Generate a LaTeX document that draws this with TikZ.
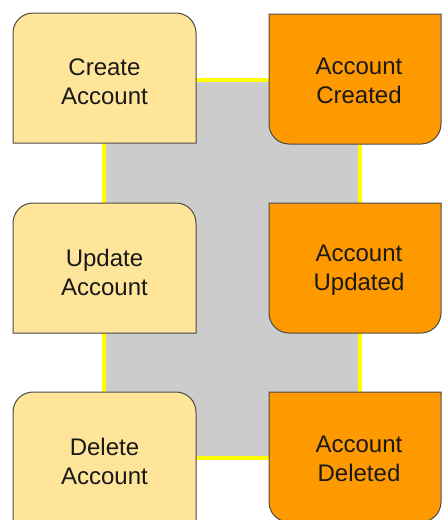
\documentclass[tikz,border=0pt]{standalone}
\usepackage{fontspec}
\setmainfont{Liberation Sans}
\definecolor{cmdfill}{HTML}{FFE599}
\definecolor{evtfill}{HTML}{FF9900}
\definecolor{edgegray}{HTML}{4A4A4A}
\definecolor{aggfill}{HTML}{CCCCCC}
\definecolor{aggline}{HTML}{FFFF00}
\begin{document}
\begin{tikzpicture}[x=1pt,y=-1pt,
  cmdbox/.style={fill=cmdfill,draw=edgegray,line width=1pt},
  evtbox/.style={fill=evtfill,draw=edgegray,line width=1pt},
  lbl/.style={font=\fontsize{24}{29}\selectfont,align=center,text=black!90,inner sep=0pt}]
\clip (0,0) rectangle (442,520);
\fill[white] (0,0) rectangle (442,520);
% aggregate background
\draw[fill=aggfill,draw=aggline,line width=4pt] (104,80) rectangle (360,458);
% commands: rounded top corners
\foreach \t/\n/\txt in {13/c1/Create\\Account, 203/c2/Update\\Account, 392/c3/Delete\\Account}{
  \path[cmdbox] (13,\t+130) -- (13,\t+20) arc (180:270:20) -- (176,\t) arc (270:360:20) -- (196,\t+130) -- cycle;
  \node[lbl] (\n) at (104.5,\t+69) {\txt};
}
% events: rounded bottom corners
\foreach \t/\n/\txt in {14/e1/Account\\Created, 203/e2/Account\\Updated, 392/e3/Account\\Deleted}{
  \path[evtbox] (269,\t) -- (441,\t) -- (441,\t+110) arc (0:90:20) -- (289,\t+130) arc (90:180:20) -- cycle;
  \node[lbl] (\n) at (359,\t+67) {\txt};
}
\end{tikzpicture}
\end{document}
